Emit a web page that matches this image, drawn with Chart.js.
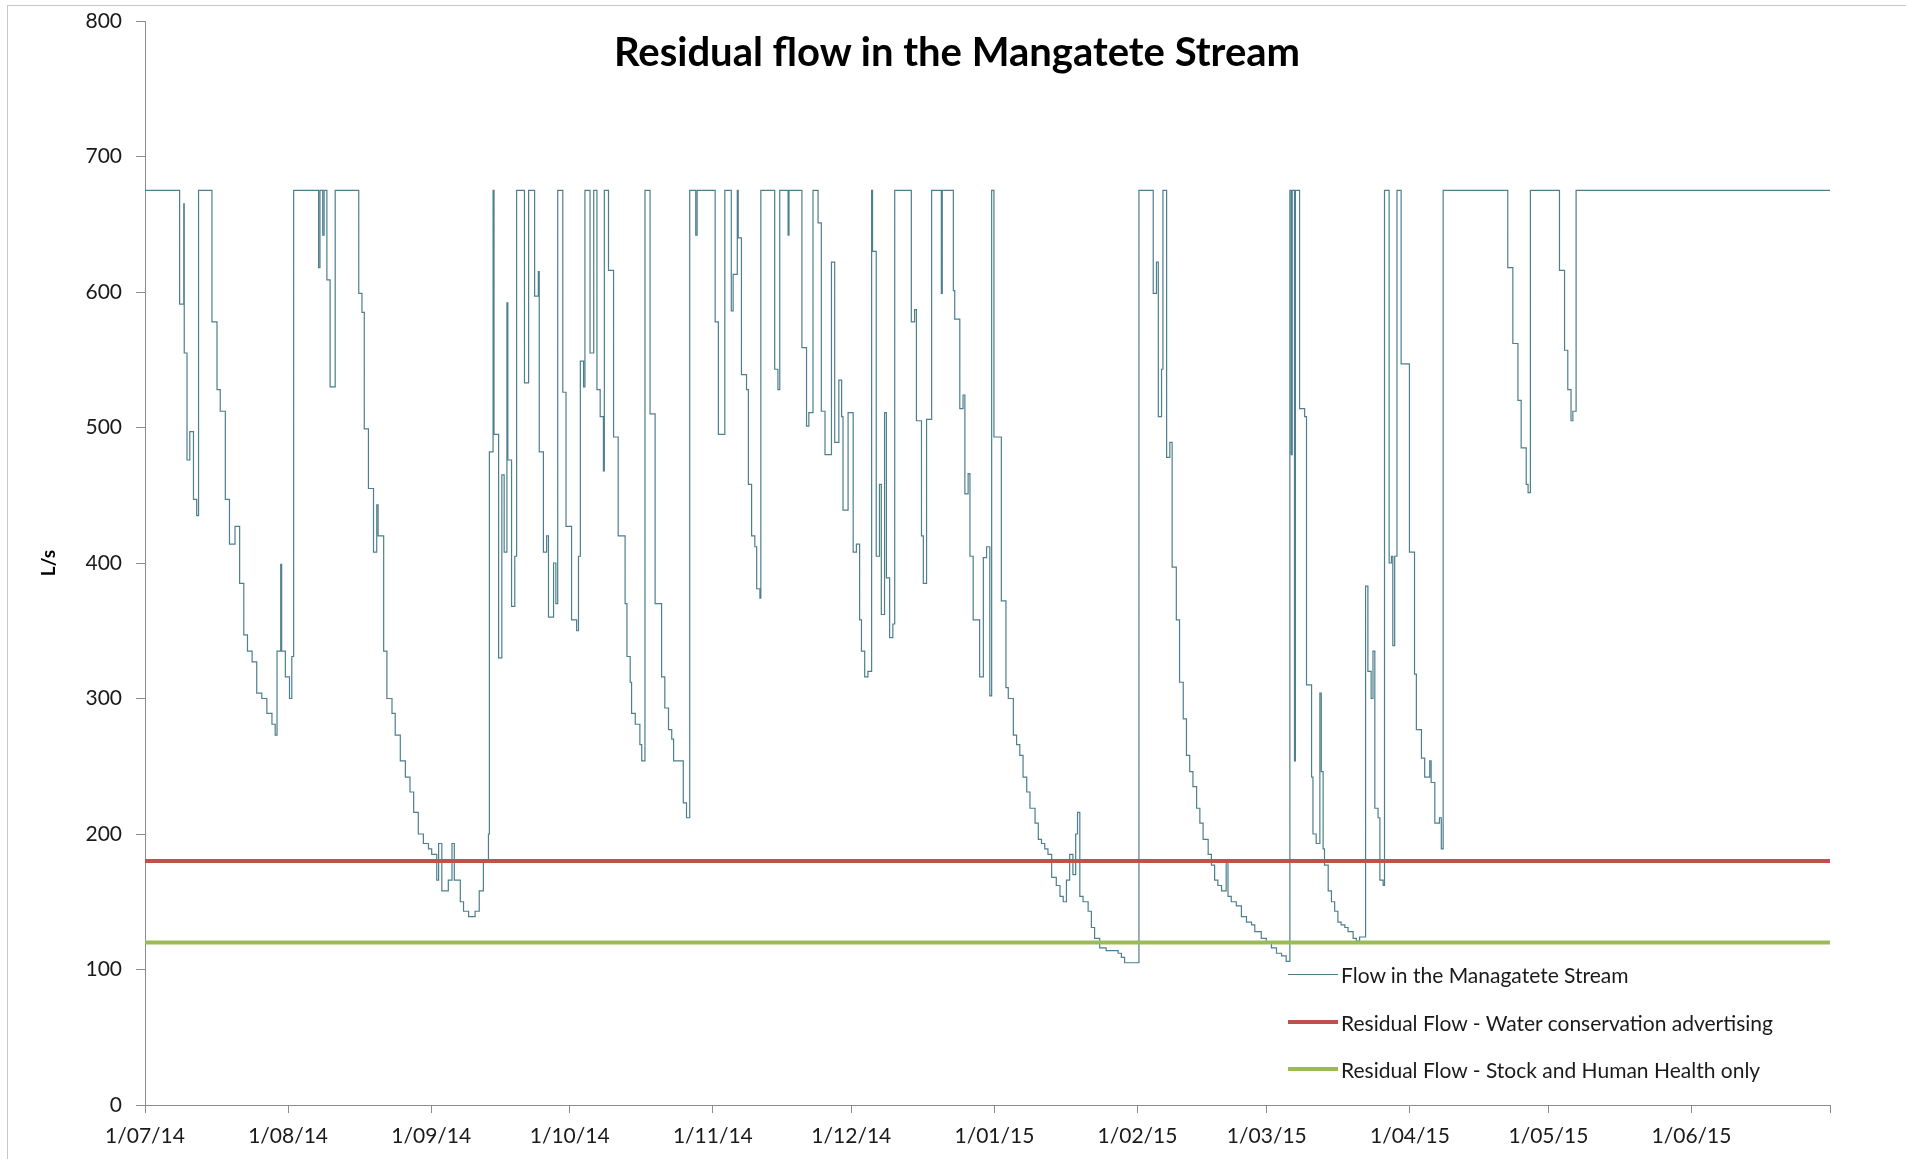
<!DOCTYPE html>
<html>
<head>
<meta charset="utf-8">
<title>Residual flow in the Mangatete Stream</title>
<script src="https://cdn.jsdelivr.net/npm/chart.js@4.4.1/dist/chart.umd.min.js"></script>
<style>
  html, body { margin: 0; padding: 0; background: #fff; }
  #wrap { position: relative; width: 1906px; height: 1159px; overflow: hidden; font-family: Lato, "Open Sans", sans-serif; }
  #frame { position: absolute; left: 7px; top: 5px; width: 1910px; height: 1160px; border: 1px solid #c8c8c8; box-sizing: border-box; }
  #flowChart { position: absolute; left: 0; top: 0; }
  #title { position: absolute; left: 0; width: 1914px; top: 28px; line-height: 46px; text-align: center; font-weight: bold; font-size: 40px; color: #000; }
  #legend { position: absolute; left: 1288px; top: 951px; font-size: 21px; color: #1a1a1a; }
  .row { display: flex; align-items: center; height: 47.4px; }
  .swatch { width: 50px; margin-right: 3px; }
</style>
</head>
<body>
<div id="wrap">
  <div id="frame"></div>
  <canvas id="flowChart" width="1906" height="1159"></canvas>
  <div id="title">Residual flow in the Mangatete Stream</div>
  <div id="legend">
    <div class="row"><span class="swatch" style="border-top: 1px solid #4d7f8c"></span>Flow in the Managatete Stream</div>
    <div class="row"><span class="swatch" style="border-top: 4px solid #c0504d"></span>Residual Flow - Water conservation advertising</div>
    <div class="row"><span class="swatch" style="border-top: 4px solid #9bbb59"></span>Residual Flow - Stock and Human Health only</div>
  </div>
</div>
<script>
// days since 1/07/14 where the flow changes, and the flow (L/s) from that point on
var flowDay = [
  0, 7.5, 8.4, 8.5, 9.1, 9.7, 10.5, 11.2, 11.6, 14.5, 15.6, 16.3, 17.4, 18.3, 19.5, 20.5, 21.4, 22.2, 23.2, 24.2,
  25.3, 26.4, 27.5, 28.2, 28.6, 29.4, 29.6, 30.4, 31.3, 31.8, 32.2, 37.6, 37.9, 38.5, 38.8, 39.4, 40.1, 41.2,
  46.3, 47.0, 47.5, 48.4, 49.5, 50.2, 50.5, 51.7, 52.4, 53.5, 54.2, 55.3, 56.4, 57.4, 58.2, 59.2, 60.3, 61.4,
  62.1, 63.2, 63.6, 64.3, 65.7, 66.5, 67.0, 68.3, 69.0, 70.1, 71.5, 72.4, 73.3, 74.4, 74.6, 75.4, 75.6, 76.6,
  77.3, 77.8, 78.4, 78.6, 79.4, 80.1, 80.5, 82.2, 83.1, 84.4, 85.2, 85.4, 86.3, 87.0, 87.4, 88.5, 89.0, 89.4,
  90.5, 91.2, 92.4, 93.5, 93.9, 94.3, 95.0, 95.3, 96.4, 97.2, 97.9, 98.6, 99.3, 99.5, 100.4, 101.5, 102.5,
  104.0, 104.4, 105.1, 105.4, 106.2, 107.2, 107.6, 108.3, 109.4, 110.5, 111.9, 112.6, 113.4, 114.1, 114.5,
  116.6, 117.3, 118.0, 119.3, 119.6, 123.5, 124.2, 125.6, 127.0, 127.4, 128.3, 128.5, 129.2, 130.3, 130.7,
  131.4, 132.1, 132.5, 133.2, 133.4, 136.4, 137.1, 137.5, 139.3, 139.5, 142.3, 143.3, 143.8, 144.7, 145.8,
  146.5, 147.3, 148.7, 149.4, 150.3, 150.9, 151.2, 152.3, 153.4, 154.1, 154.8, 155.2, 155.9, 156.6, 157.4,
  157.6, 158.4, 159.1, 159.5, 160.2, 160.6, 161.3, 162.0, 162.4, 166.0, 166.7, 167.1, 168.2, 168.6, 169.3,
  170.4, 172.5, 172.7, 175.1, 175.4, 176.5, 177.2, 177.6, 178.3, 178.7, 179.4, 180.8, 181.6, 182.3, 183.0,
  183.4, 183.9, 185.5, 186.5, 187.0, 188.1, 188.8, 189.5, 190.2, 191.0, 191.7, 192.8, 193.5, 194.2, 194.9,
  195.6, 196.4, 197.4, 198.2, 198.9, 199.6, 200.3, 201.0, 201.6, 202.0, 202.5, 203.2, 204.3, 205.0, 205.7,
  206.8, 208.2, 210.8, 211.5, 212.2, 215.3, 218.4, 219.1, 219.5, 220.2, 220.5, 221.3, 222.0, 222.5, 223.4,
  224.1, 224.9, 225.6, 226.3, 227.0, 227.8, 228.5, 229.2, 230.3, 231.0, 231.7, 232.4, 233.2, 234.2, 234.6,
  235.3, 236.4, 237.5, 238.6, 239.7, 240.4, 241.8, 242.9, 244.0, 245.1, 246.2, 247.2, 248.0, 248.3, 248.5,
  249.0, 249.2, 250.1, 251.2, 251.6, 252.7, 253.0, 253.7, 254.5, 254.8, 255.2, 255.5, 256.3, 257.0, 257.7,
  258.4, 259.1, 259.9, 260.6, 261.7, 262.4, 263.1, 264.4, 264.9, 265.6, 266.0, 266.4, 267.1, 267.5, 268.2,
  268.5, 269.5, 270.0, 270.3, 270.7, 271.2, 272.1, 273.9, 275.0, 275.4, 276.5, 277.2, 278.3, 278.6, 279.4,
  280.4, 280.8, 281.2, 295.2, 296.3, 297.4, 298.1, 299.2, 299.6, 300.1, 306.4, 307.5, 308.2, 308.9, 309.3,
  310.0, 365
];
var flowLs = [
  675, 591, 665, 555, 476, 497, 447, 435, 675, 578, 528, 512, 447, 414, 427, 385, 347, 335, 327, 304,
  300, 289, 281, 273, 335, 399, 335, 316, 300, 331, 675, 618, 675, 642, 675, 609, 530, 675,
  599, 585, 499, 455, 408, 443, 420, 335, 300, 289, 273, 254, 242, 231, 216, 200, 193, 189,
  185, 166, 193, 158, 166, 193, 166, 150, 143, 139, 143, 158, 181, 200, 482, 675, 495, 330,
  465, 408, 592, 476, 368, 405, 675, 533, 675, 597, 615, 482, 408, 420, 360, 400, 370, 675,
  526, 427, 358, 350, 405, 549, 530, 675, 555, 675, 528, 508, 468, 675, 616, 493, 420,
  370, 331, 312, 289, 281, 266, 254, 675, 510, 370, 316, 293, 277, 270, 254,
  223, 212, 675, 642, 675, 578, 495, 675, 586, 613, 675, 640, 539, 528, 458,
  420, 412, 381, 374, 675, 543, 528, 675, 642, 675, 559, 501, 511, 675, 651,
  512, 480, 622, 489, 535, 508, 439, 511, 408, 414, 358, 335, 316, 320, 675,
  630, 405, 458, 362, 511, 389, 345, 355, 675, 578, 587, 505, 420, 385, 506,
  675, 599, 675, 601, 580, 514, 524, 451, 466, 405, 358, 316, 404, 412, 302,
  675, 493, 372, 308, 300, 273, 266, 258, 242, 231, 219, 208, 196, 193, 189,
  185, 168, 162, 154, 150, 166, 185, 170, 200, 216, 154, 150, 143, 131, 123,
  116, 114, 112, 109, 105, 675, 599, 622, 508, 543, 675, 478, 489, 397, 358,
  312, 285, 258, 246, 235, 219, 208, 196, 185, 177, 166, 162, 158, 181, 154,
  150, 147, 139, 135, 133, 128, 123, 120, 116, 112, 110, 106, 675, 480, 675,
  254, 675, 514, 508, 310, 242, 200, 193, 304, 246, 189, 177, 158, 150, 143,
  135, 133, 131, 128, 123, 121, 124, 383, 320, 300, 335, 219, 212, 166, 162,
  675, 400, 405, 339, 405, 675, 547, 408, 318, 277, 256, 242, 254, 238, 208,
  212, 189, 675, 618, 562, 520, 485, 458, 452, 675, 616, 557, 528, 505, 512,
  675, 675
];
var conservationFlow = 180; // water conservation advertising
var healthFlow = 120;       // stock and human health only
var monthTicks = [0, 31, 62, 92, 123, 153, 184, 215, 243, 274, 304, 335, 365];
var monthLabels = ['1/07/14', '1/08/14', '1/09/14', '1/10/14', '1/11/14', '1/12/14', '1/01/15',
                   '1/02/15', '1/03/15', '1/04/15', '1/05/15', '1/06/15', ''];

var flowPoints = flowDay.map(function(d, i) { return { x: d, y: flowLs[i] }; });
var axisGrey = '#8c8c8c';
var tickFont = { family: 'Lato', size: 21 };

new Chart(document.getElementById('flowChart'), {
  type: 'line',
  data: {
    datasets: [{
      label: 'Flow in the Managatete Stream',
      data: flowPoints,
      borderColor: '#4d7f8c',
      borderWidth: 1.2,
      stepped: true,
      pointRadius: 0,
      order: 2
    }, {
      label: 'Residual Flow - Water conservation advertising',
      data: [{ x: 0, y: conservationFlow }, { x: 365, y: conservationFlow }],
      borderColor: '#c0504d',
      borderWidth: 4,
      pointRadius: 0,
      order: 1
    }, {
      label: 'Residual Flow - Stock and Human Health only',
      data: [{ x: 0, y: healthFlow }, { x: 365, y: healthFlow }],
      borderColor: '#9bbb59',
      borderWidth: 4,
      pointRadius: 0,
      order: 0
    }]
  },
  options: {
    responsive: false,
    animation: false,
    events: [],
    layout: { padding: { left: 0, top: 21, right: 76, bottom: 0 } },
    plugins: {
      legend: { display: false },
      tooltip: { enabled: false },
      title: { display: false }
    },
    scales: {
      x: {
        type: 'linear',
        min: 0,
        max: 365,
        afterBuildTicks: function(scale) {
          scale.ticks = monthTicks.map(function(v) { return { value: v }; });
        },
        afterFit: function(scale) { scale.height = 54; },
        grid: { drawOnChartArea: false, tickLength: 8, color: axisGrey },
        border: { color: axisGrey },
        ticks: {
          autoSkip: false,
          maxRotation: 0,
          padding: 11,
          color: '#1a1a1a',
          font: tickFont,
          callback: function(value, index) { return monthLabels[index]; }
        }
      },
      y: {
        min: 0,
        max: 800,
        afterFit: function(scale) {
          scale.width = 145;
          // let the plot run right up to the top, as in the original
          scale.paddingTop = 0;
          scale.paddingBottom = 0;
        },
        grid: { drawOnChartArea: false, tickLength: 9, color: axisGrey },
        border: { color: axisGrey },
        ticks: { stepSize: 100, padding: 14, color: '#1a1a1a', font: tickFont },
        title: {
          display: true,
          text: 'L/s',
          color: '#000',
          font: { family: 'Lato', size: 19, weight: 'bold' },
          padding: { top: 37, bottom: 0 }
        }
      }
    }
  }
});
</script>
</body>
</html>
